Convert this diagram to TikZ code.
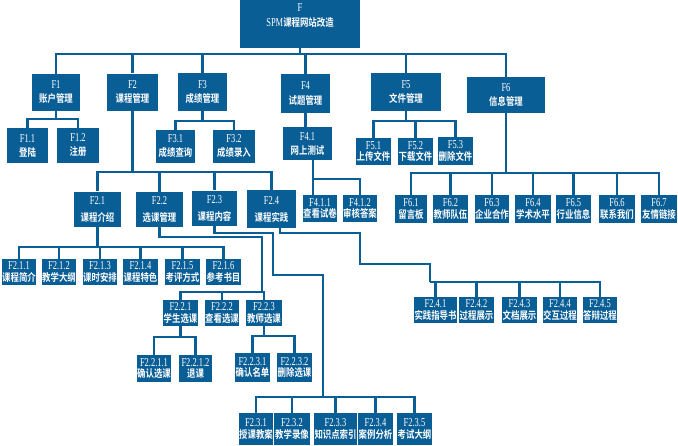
\documentclass[tikz,border=0pt]{standalone}
\usepackage{fontspec}
\setmainfont[FakeStretch=0.7, Scale=1.15]{Liberation Serif}
\newfontfamily\cjk[FakeStretch=0.8]{Noto Sans CJK SC Bold}
\definecolor{sea}{RGB}{10,94,150}
\tikzset{
  box/.style={fill=sea, text=white, inner sep=0.5pt, align=center, font=\fontsize{10.5}{11.5}\selectfont},
  bigbox/.style={box, font=\fontsize{10.5}{14}\selectfont},
  link/.style={draw=sea, line width=2.2pt}
}
\begin{document}
\begin{tikzpicture}[x=1pt, y=-1pt]
\useasboundingbox (0,0) rectangle (678,445);
% root
\node[bigbox, minimum width=120pt, minimum height=50pt] (f) at (300,23) {};
\node[text=white, align=center, font=\fontsize{10.5}{15}\selectfont] (ftext) at (300,16) {F\\SPM\cjk 课程网站改造};
% first level
\node[bigbox, minimum width=48pt, minimum height=37pt] (f1) at (56,92.5) {F1\\\cjk 账户管理};
\node[bigbox, minimum width=51pt, minimum height=37pt] (f2) at (132.5,92) {F2\\\cjk 课程管理};
\node[bigbox, minimum width=49pt, minimum height=38pt] (f3) at (202.5,92) {F3\\\cjk 成绩管理};
\node[bigbox, minimum width=49pt, minimum height=39pt] (f4) at (305.5,93.5) {F4\\\cjk 试题管理};
\node[bigbox, minimum width=70pt, minimum height=38pt] (f5) at (406,92) {F5\\\cjk 文件管理};
\node[bigbox, minimum width=78pt, minimum height=36pt] (f6) at (506,95) {F6\\\cjk 信息管理};
% second level
\node[bigbox, minimum width=41pt, minimum height=35pt] (f11) at (27.5,145.5) {F1.1\\\cjk 登陆};
\node[bigbox, minimum width=42pt, minimum height=35pt] (f12) at (78,145.5) {F1.2\\\cjk 注册};
\node[bigbox, minimum width=39pt, minimum height=33pt] (f31) at (175.5,146.5) {F3.1\\\cjk 成绩查询};
\node[bigbox, minimum width=42pt, minimum height=33pt] (f32) at (234,146.5) {F3.2\\\cjk 成绩录入};
\node[bigbox, minimum width=49pt, minimum height=33pt] (f41) at (307.5,143.5) {F4.1\\\cjk 网上测试};
\node[box, minimum width=35pt, minimum height=27pt] (f51) at (373.5,151.5) {F5.1\\\cjk 上传文件};
\node[box, minimum width=35pt, minimum height=27pt] (f52) at (415.5,151.5) {F5.2\\\cjk 下载文件};
\node[box, minimum width=33pt, minimum height=28pt] (f53) at (455.5,151) {F5.3\\\cjk 删除文件};
\node[box, minimum width=32pt, minimum height=28pt] (f61) at (411,209) {F6.1\\\cjk 留言板};
\node[box, minimum width=35pt, minimum height=28pt] (f62) at (450.5,209) {F6.2\\\cjk 教师队伍};
\node[box, minimum width=34pt, minimum height=28pt] (f63) at (492,209) {F6.3\\\cjk 企业合作};
\node[box, minimum width=36pt, minimum height=28pt] (f64) at (533,209) {F6.4\\\cjk 学术水平};
\node[box, minimum width=35pt, minimum height=28pt] (f65) at (573.5,209) {F6.5\\\cjk 行业信息};
\node[box, minimum width=36pt, minimum height=28pt] (f66) at (617,209) {F6.6\\\cjk 联系我们};
\node[box, minimum width=36pt, minimum height=28pt] (f67) at (659,209) {F6.7\\\cjk 友情链接};
\node[bigbox, minimum width=47pt, minimum height=35pt] (f21) at (97.5,209) {F2.1\\[3pt]\cjk 课程介绍};
\node[bigbox, minimum width=47pt, minimum height=35pt] (f22) at (159.5,209.5) {F2.2\\[3pt]\cjk 选课管理};
\node[bigbox, minimum width=45pt, minimum height=35pt] (f23) at (214.5,208) {F2.3\\[3pt]\cjk 课程内容};
\node[bigbox, minimum width=49pt, minimum height=38pt] (f24) at (271.5,209) {F2.4\\[3pt]\cjk 课程实践};
\node[box, minimum width=34pt, minimum height=27pt] (f411) at (320,208.5) {F4.1.1\\\cjk 查看试卷};
\node[box, minimum width=34pt, minimum height=27pt] (f412) at (360,208.5) {F4.1.2\\\cjk 审核答案};
% third level
\node[box, minimum width=32pt, minimum height=26pt] (f211) at (19,272) {F2.1.1\\\cjk 课程简介};
\node[box, minimum width=34pt, minimum height=26pt] (f212) at (59,272) {F2.1.2\\\cjk 教学大纲};
\node[box, minimum width=34pt, minimum height=26pt] (f213) at (100,272) {F2.1.3\\\cjk 课时安排};
\node[box, minimum width=33pt, minimum height=26pt] (f214) at (140.5,272) {F2.1.4\\\cjk 课程特色};
\node[box, minimum width=33pt, minimum height=26pt] (f215) at (182.5,272) {F2.1.5\\\cjk 考评方式};
\node[box, minimum width=33pt, minimum height=26pt] (f216) at (223.5,272) {F2.1.6\\\cjk 参考书目};
\node[box, minimum width=35pt, minimum height=26pt] (f221) at (180.5,313) {F2.2.1\\\cjk 学生选课};
\node[box, minimum width=34pt, minimum height=26pt] (f222) at (222,313) {F2.2.2\\\cjk 查看选课};
\node[box, minimum width=36pt, minimum height=26pt] (f223) at (264,313) {F2.2.3\\\cjk 教师选课};
\node[box, minimum width=39pt, minimum height=26pt] (f241) at (435.5,310) {F2.4.1\\\cjk 实践指导书};
\node[box, minimum width=33pt, minimum height=26pt] (f242) at (476.5,310) {F2.4.2\\\cjk 过程展示};
\node[box, minimum width=35pt, minimum height=26pt] (f243) at (519.5,310) {F2.4.3\\\cjk 文档展示};
\node[box, minimum width=34pt, minimum height=26pt] (f244) at (560,310) {F2.4.4\\\cjk 交互过程};
\node[box, minimum width=34pt, minimum height=26pt] (f245) at (600,310) {F2.4.5\\\cjk 答辩过程};
% fourth level
\node[box, minimum width=34pt, minimum height=27pt] (f2211) at (154,368.5) {F2.2.1.1\\\cjk 确认选课};
\node[box, minimum width=33pt, minimum height=27pt] (f2212) at (195.5,368.5) {F2.2.1.2\\\cjk 退课};
\node[box, minimum width=35pt, minimum height=29pt] (f2231) at (252.5,367.5) {F2.2.3.1\\\cjk 确认名单};
\node[box, minimum width=35pt, minimum height=29pt] (f2232) at (294.5,367.5) {F2.2.3.2\\\cjk 删除选课};
\node[box, minimum width=32pt, minimum height=32pt] (f231) at (256,429) {F2.3.1\\\cjk 授课教案};
\node[box, minimum width=36pt, minimum height=32pt] (f232) at (292,429) {F2.3.2\\\cjk 教学录像};
\node[box, minimum width=39pt, minimum height=32pt] (f233) at (335.5,429) {F2.3.3\\\cjk 知识点索引};
\node[box, minimum width=35pt, minimum height=32pt] (f234) at (375.5,429) {F2.3.4\\\cjk 案例分析};
\node[box, minimum width=35pt, minimum height=32pt] (f235) at (414.5,429) {F2.3.5\\\cjk 考试大纲};
% connectors
\coordinate (b0) at (300,54);
\draw[link] (f) -- (b0);
\foreach \n in {f1,f2,f3,f4,f5,f6} \draw[link] (b0) -| (\n.north);
\coordinate (b1) at (56,119);
\draw[link] (f1) -- (b1);
\foreach \n in {f11,f12} \draw[link] (b1) -| (\n.north);
\coordinate (b3) at (202.5,121);
\draw[link] (f3) -- (b3);
\foreach \n in {f31,f32} \draw[link] (b3) -| (\n.north);
\draw[link] (f4.south) -- (f4.south |- f41.north);
\coordinate (b5) at (406,121);
\draw[link] (f5) -- (b5);
\foreach \n in {f51,f52,f53} \draw[link] (b5) -| (\n.north);
\coordinate (b6) at (506,173);
\draw[link] (f6) -- (b6);
\foreach \n in {f61,f62,f63,f64,f65,f66,f67} \draw[link] (b6) -| (\n.north);
\coordinate (b2) at (132.5,172);
\draw[link] (f2) -- (b2);
\foreach \n in {f21,f22,f23,f24} \draw[link] (b2) -| (\n.north);
\coordinate (b41) at (313,179);
\draw[link] (f41.south -| b41) -- (f411.north -| b41);
\draw[link] (b41) -| (f412.north);
\coordinate (b21) at (97.5,247);
\draw[link] (f21) -- (b21);
\foreach \n in {f211,f212,f213,f214,f215,f216} \draw[link] (b21) -| (\n.north);
\coordinate (b22) at (262,292);
\draw[link] (f22.south) |- (262,237) -- (b22);
\foreach \n in {f221,f222,f223} \draw[link] (b22) -| (\n.north);
\coordinate (b221) at (180.5,337);
\draw[link] (f221) -- (b221);
\foreach \n in {f2211,f2212} \draw[link] (b221) -| (\n.north);
\coordinate (b223) at (264,336);
\draw[link] (f223) -- (b223);
\foreach \n in {f2231,f2232} \draw[link] (b223) -| (\n.north);
\coordinate (b23) at (323,397);
\draw[link] (f23.south) |- (273,233) |- (323,275) -- (b23);
\foreach \n in {f231,f232,f233,f234,f235} \draw[link] (b23) -| (\n.north);
\coordinate (b24) at (430,282);
\draw[link] ([xshift=8.5pt]f24.south) |- (360,233) |- (430,264) -- (b24);
\foreach \n in {f241,f242,f243,f244,f245} \draw[link] (b24) -| (\n.north);
\end{tikzpicture}
\end{document}
